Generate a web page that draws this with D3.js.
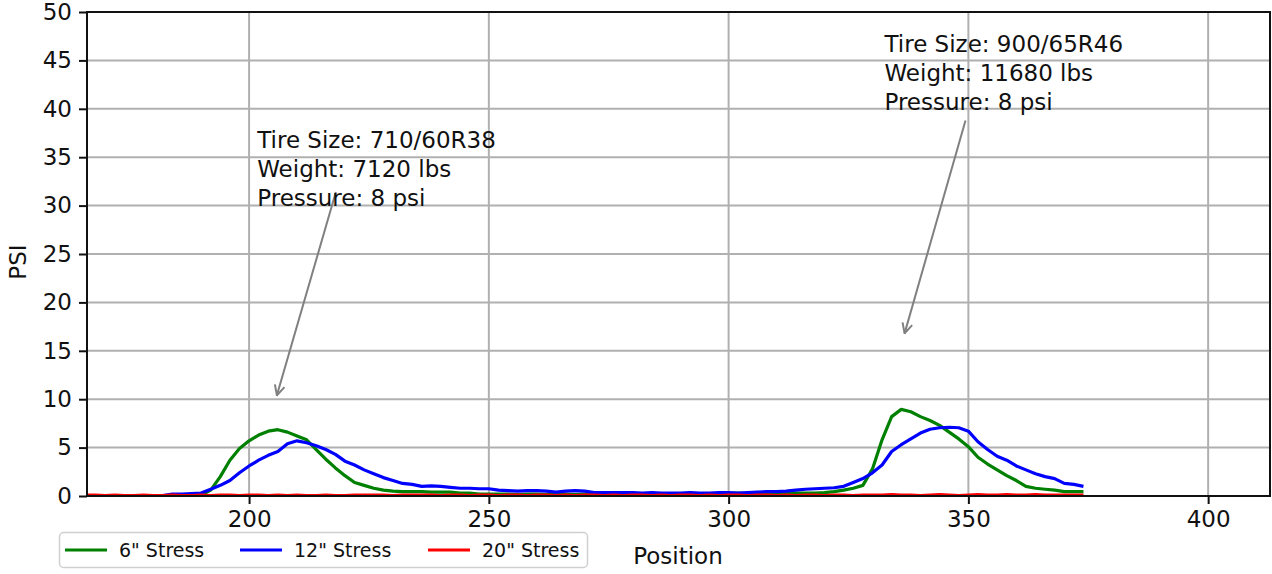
<!DOCTYPE html>
<html>
<head>
<meta charset="utf-8">
<script src="https://cdn.jsdelivr.net/npm/d3@7"></script>
<style>
  body { margin: 0; background: #fff; }
  text { font-family: "DejaVu Sans", sans-serif; }
</style>
</head>
<body>
<svg id="drawing_region"></svg>
<script>
var width = 1272;
var height = 574;
var margin = {top: 12, right: 2, bottom: 78, left: 87};

// positions (every 2 units)
const positions = d3.range(166, 375, 2);

const stress6 = [
  0.05,0.05,0.05,0.05,0.05,0.05,0.05,0.05,0.05,0.05,0.05,0.05,
  0.1,0.6,2.0,3.7,4.9,5.7,6.3,6.7,6.85,6.6,6.2,5.8,4.8,3.8,2.9,2.1,1.4,1.1,0.8,0.6,0.5,0.45,0.45,0.45,0.4,0.4,0.4,0.3,0.3,0.2,0.2,
  0.2,0.2,0.15,0.2,0.2,0.15,0.2,0.2,0.15,0.2,0.15,0.15,0.2,0.15,0.2,0.15,0.15,0.2,0.15,0.15,0.2,0.15,0.2,0.2,0.25,0.3,0.25,0.25,0.3,0.3,
  0.3,0.3,0.3,0.3,0.35,0.45,0.6,0.8,1.1,2.8,5.8,8.2,8.95,8.7,8.2,7.8,7.3,6.6,5.9,5.1,4.0,3.3,2.7,2.1,1.6,1.0,0.8,0.7,0.6,0.45,0.45,0.45
];

const stress12 = [
  0.05,0.05,0.05,0.05,0.05,0.05,0.05,0.05,0.05,
  0.2,0.2,0.25,0.3,0.7,1.1,1.6,2.4,3.1,3.7,4.2,4.6,5.4,5.7,5.5,5.2,4.8,4.3,3.6,3.2,2.7,2.3,1.9,1.6,1.3,1.2,1.0,1.05,1.0,0.9,0.8,0.8,0.75,0.75,
  0.6,0.55,0.5,0.55,0.55,0.5,0.4,0.5,0.55,0.5,0.35,0.35,0.35,0.35,0.35,0.3,0.35,0.3,0.3,0.3,0.35,0.3,0.3,0.35,0.35,0.3,0.35,0.4,0.45,0.45,
  0.5,0.6,0.7,0.75,0.8,0.85,1.0,1.4,1.8,2.4,3.2,4.6,5.3,5.9,6.5,6.9,7.05,7.1,7.05,6.7,5.6,4.8,4.1,3.7,3.1,2.7,2.3,2.0,1.8,1.3,1.2,1.0
];

const stress20 = [
  0.1,0.1,0.05,0.1,0.05,0.05,0.1,0.05,0.05,0.1,0.05,0.05,
  0.1,0.05,0.1,0.1,0.05,0.1,0.1,0.05,0.1,0.05,0.1,0.05,0.05,0.1,0.05,0.05,0.1,0.1,0.1,0.1,0.05,0.1,0.1,0.1,0.1,0.05,0.1,0.1,0.05,0.1,0.1,
  0.05,0.1,0.1,0.05,0.1,0.1,0.05,0.1,0.05,0.1,0.1,0.05,0.1,0.05,0.1,0.1,0.05,0.1,0.05,0.1,0.1,0.05,0.1,0.05,0.1,0.1,0.05,0.1,0.1,0.05,
  0.1,0.05,0.1,0.1,0.05,0.1,0.1,0.05,0.1,0.1,0.1,0.15,0.1,0.1,0.05,0.1,0.15,0.1,0.05,0.1,0.15,0.1,0.1,0.15,0.1,0.1,0.15,0.1,0.1,0.1,0.1,0.1
];

const seriesNames = ['6" Stress', '12" Stress', '20" Stress'];
const seriesColors = ['green', 'blue', 'red'];
const seriesValues = [stress6, stress12, stress20];

const xTicks = [200, 250, 300, 350, 400];
const yTicks = [0, 5, 10, 15, 20, 25, 30, 35, 40, 45, 50];

const notes = [
  {lines: ['Tire Size: 710/60R38', 'Weight: 7120 lbs', 'Pressure: 8 psi'], tx: 201.7, ty: 36.0, from: [218.1, 31.4], to: [205.8, 10.4]},
  {lines: ['Tire Size: 900/65R46', 'Weight: 11680 lbs', 'Pressure: 8 psi'], tx: 332.5, ty: 45.9, from: [349.4, 38.8], to: [336.7, 16.8]}
];

var svg = d3.select('#drawing_region')
      .attr('width', width)
      .attr('height', height);

var chart = svg.append('g')
      .attr('transform', `translate(${margin.left}, ${margin.top})`);

const innerWidth = width - margin.left - margin.right;
const innerHeight = height - margin.top - margin.bottom;

const xscale = d3.scaleLinear().domain([166.2, 412.9]).range([0, innerWidth]);
const yscale = d3.scaleLinear().domain([0, 50]).range([innerHeight, 0]);

// grid
chart.append('g')
      .selectAll('line')
      .data(xTicks)
      .enter()
      .append('line')
      .attr('x1', d => xscale(d)).attr('x2', d => xscale(d))
      .attr('y1', 0).attr('y2', innerHeight)
      .attr('stroke', '#b0b0b0').attr('stroke-width', 2);

chart.append('g')
      .selectAll('line')
      .data(yTicks)
      .enter()
      .append('line')
      .attr('x1', 0).attr('x2', innerWidth)
      .attr('y1', d => yscale(d)).attr('y2', d => yscale(d))
      .attr('stroke', '#b0b0b0').attr('stroke-width', 2);

// lines
const line = d3.line()
      .x((d, i) => xscale(positions[i]))
      .y(d => yscale(d));

seriesValues.forEach((vals, k) => {
  chart.append('path')
        .attr('d', line(vals))
        .attr('stroke', seriesColors[k])
        .attr('stroke-width', 3.2)
        .attr('stroke-linejoin', 'round')
        .attr('fill', 'none');
});

// frame
chart.append('rect')
      .attr('width', innerWidth).attr('height', innerHeight)
      .attr('fill', 'none').attr('stroke', '#111').attr('stroke-width', 2);

const xAxis = d3.axisBottom(xscale).tickValues(xTicks).tickSize(8).tickPadding(7);
const yAxis = d3.axisLeft(yscale).tickValues(yTicks).tickSize(8).tickPadding(7);

const gx = chart.append('g')
      .attr('transform', `translate(0, ${innerHeight})`)
      .call(xAxis);
const gy = chart.append('g').call(yAxis);

[gx, gy].forEach(g => {
  g.select('.domain').remove();
  g.selectAll('line').attr('stroke', '#111').attr('stroke-width', 2);
  g.selectAll('text').attr('font-size', 23).attr('fill', '#111')
        .style('font-family', '"DejaVu Sans", sans-serif');
});

// axis labels
svg.append('text')
      .attr('x', 678).attr('y', 564)
      .attr('text-anchor', 'middle')
      .attr('font-size', 23).attr('fill', '#111')
      .text('Position');

svg.append('text')
      .attr('transform', 'translate(26, 262) rotate(-90)')
      .attr('text-anchor', 'middle')
      .attr('font-size', 23).attr('fill', '#111')
      .text('PSI');

// annotations
svg.append('defs').append('marker')
      .attr('id', 'arr')
      .attr('viewBox', '0 0 12 12')
      .attr('refX', 11).attr('refY', 6)
      .attr('markerWidth', 12).attr('markerHeight', 12)
      .attr('markerUnits', 'userSpaceOnUse')
      .attr('orient', 'auto')
      .append('path')
      .attr('d', 'M1,1 L11,6 L1,11')
      .attr('fill', 'none').attr('stroke', 'gray').attr('stroke-width', 2);

notes.forEach(n => {
  chart.append('line')
        .attr('x1', xscale(n.from[0])).attr('y1', yscale(n.from[1]))
        .attr('x2', xscale(n.to[0])).attr('y2', yscale(n.to[1]))
        .attr('stroke', 'gray').attr('stroke-width', 2)
        .attr('marker-end', 'url(#arr)');
  n.lines.forEach((t, i) => {
    chart.append('text')
          .attr('x', xscale(n.tx))
          .attr('y', yscale(n.ty) + i * 29)
          .attr('font-size', 23).attr('fill', '#111')
          .text(t);
  });
});

// legend
const legend = svg.append('g');
legend.append('rect')
      .attr('x', 59.5).attr('y', 532.5).attr('width', 528).attr('height', 35)
      .attr('rx', 4)
      .attr('fill', 'white').attr('stroke', '#d0d0d0').attr('stroke-width', 1.5);

const legendX = [65, 240, 428];
seriesNames.forEach((name, k) => {
  legend.append('line')
        .attr('x1', legendX[k]).attr('x2', legendX[k] + 42)
        .attr('y1', 550).attr('y2', 550)
        .attr('stroke', seriesColors[k]).attr('stroke-width', 3.2);
  legend.append('text')
        .attr('x', legendX[k] + 54).attr('y', 557)
        .attr('font-size', 19).attr('fill', '#111')
        .text(name);
});
</script>
</body>
</html>
